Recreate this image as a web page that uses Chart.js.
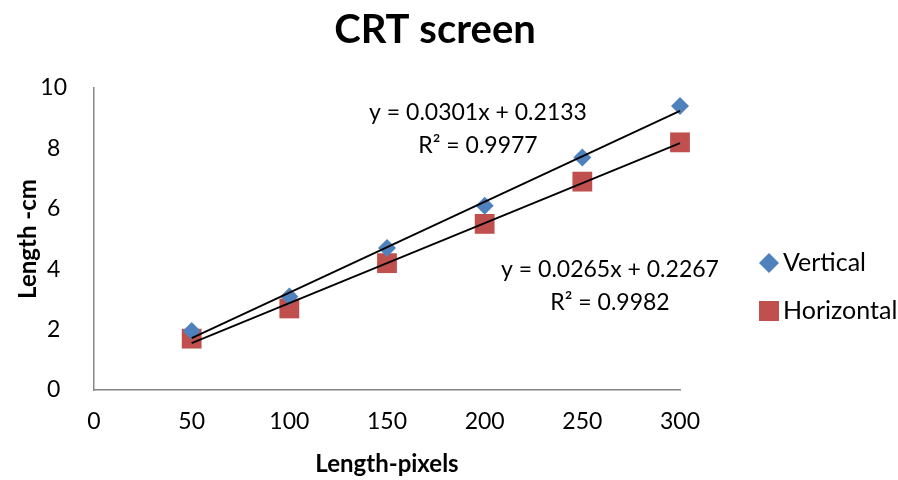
<!DOCTYPE html>
<html>
<head>
<meta charset="utf-8">
<script src="https://cdn.jsdelivr.net/npm/chart.js@4/dist/chart.umd.min.js"></script>
<style>
  html, body { margin: 0; padding: 0; background: #fff; }
  #wrap { width: 898px; height: 480px; }
</style>
</head>
<body>
<div id="wrap"><canvas id="c"></canvas></div>
<script>
const pixels = [50, 100, 150, 200, 250, 300];
const vertical = [1.95, 3.1, 4.7, 6.1, 7.7, 9.4];
const horizontal = [1.7, 2.7, 4.2, 5.5, 6.9, 8.2];
const xTicks = [0, 50, 100, 150, 200, 250, 300];
const yTicks = [0, 2, 4, 6, 8, 10];

// trendline coefficients as printed on the chart
const vFit = { m: 0.0301, b: 0.2133, r2: 0.9977 };
const hFit = { m: 0.0265, b: 0.2267, r2: 0.9982 };

const FONT = 'Lato, "Open Sans", sans-serif';

function fitLine(fit) {
	const x0 = pixels[0], x1 = pixels[pixels.length - 1];
	return [{ x: x0, y: fit.m * x0 + fit.b }, { x: x1, y: fit.m * x1 + fit.b }];
}

function toPoints(ys) {
	return pixels.map((x, i) => ({ x, y: ys[i] }));
}

function eqText(fit) {
	return ['y = ' + fit.m.toFixed(4) + 'x + ' + fit.b.toFixed(4), 'R\u00b2 = ' + fit.r2.toFixed(4)];
}

function drawMarker(ctx, style, x, y, r) {
	ctx.beginPath();
	if (style === 'rectRot') {
		ctx.moveTo(x, y - r); ctx.lineTo(x + r, y); ctx.lineTo(x, y + r); ctx.lineTo(x - r, y);
	} else {
		ctx.rect(x - r, y - r, 2 * r, 2 * r);
	}
	ctx.closePath();
	ctx.fill();
}

// equations next to the trendlines, Excel style
const eqLabels = {
	id: 'eqLabels',
	afterDatasetsDraw(chart) {
		const ctx = chart.ctx;
		const spots = [
			{ lines: eqText(vFit), x: 478, y: 113 },
			{ lines: eqText(hFit), x: 610, y: 270 }
		];
		ctx.save();
		ctx.fillStyle = '#000';
		ctx.font = '23px ' + FONT;
		ctx.textAlign = 'center';
		ctx.textBaseline = 'middle';
		spots.forEach(s => {
			s.lines.forEach((t, i) => ctx.fillText(t, s.x, s.y + i * 33));
		});
		ctx.restore();
	}
};

// legend on the right, only the two data series
const sideLegend = {
	id: 'sideLegend',
	afterDraw(chart) {
		const ctx = chart.ctx;
		const items = chart.data.datasets.filter(d => !d.isFit);
		ctx.save();
		ctx.font = '25px ' + FONT;
		ctx.textBaseline = 'middle';
		ctx.textAlign = 'left';
		items.forEach((d, i) => {
			const y = 263 + i * 48;
			ctx.fillStyle = d.backgroundColor;
			drawMarker(ctx, d.pointStyle, 769, y, 10);
			ctx.fillStyle = '#000';
			ctx.fillText(d.label, 783, y);
		});
		ctx.restore();
	}
};

new Chart(document.getElementById('c'), {
	type: 'scatter',
	data: {
		datasets: [
			{ label: 'Vertical', data: toPoints(vertical), pointStyle: 'rectRot', pointRadius: 9, pointHoverRadius: 9,
			  backgroundColor: '#4F81BD', borderColor: '#4F81BD', borderWidth: 0, order: 2, clip: false },
			{ label: 'Horizontal', data: toPoints(horizontal), pointStyle: 'rect', pointRadius: 14, pointHoverRadius: 14,
			  backgroundColor: '#C0504D', borderColor: '#C0504D', borderWidth: 0, order: 2, clip: false },
			{ label: 'fitV', isFit: true, data: fitLine(vFit), showLine: true, pointRadius: 0, borderColor: '#000', borderWidth: 1.8, order: 1, clip: false },
			{ label: 'fitH', isFit: true, data: fitLine(hFit), showLine: true, pointRadius: 0, borderColor: '#000', borderWidth: 1.8, order: 1, clip: false }
		]
	},
	options: {
		responsive: true,
		maintainAspectRatio: false,
		animation: false,
		layout: { padding: { top: 0, right: 28, left: 0, bottom: 0 } },
		plugins: {
			title: {
				display: true, text: 'CRT screen', color: '#000',
				font: { family: FONT, size: 40, weight: 'bold' },
				padding: { top: 6, bottom: 34 }
			},
			legend: { display: false },
			tooltip: { enabled: false }
		},
		scales: {
			x: {
				type: 'linear', min: 0, max: 300,
				afterBuildTicks: ax => { ax.ticks = xTicks.map(v => ({ value: v })); },
				afterFit: ax => { ax.height = 90; },
				grid: { display: false, drawTicks: false },
				border: { color: '#868686', width: 1.5 },
				ticks: { color: '#000', padding: 18, font: { family: FONT, size: 23 } },
				title: { display: true, text: 'Length-pixels', color: '#000', padding: { top: 0, bottom: 1 },
					font: { family: FONT, size: 24, weight: 'bold' } }
			},
			y: {
				min: 0, max: 10,
				afterBuildTicks: ax => { ax.ticks = yTicks.map(v => ({ value: v })); },
				afterFit: ax => { ax.width = 94; },
				grid: { display: false, drawTicks: false },
				border: { color: '#868686', width: 1.5 },
				ticks: { color: '#000', padding: 27, crossAlign: 'center', font: { family: FONT, size: 23 } },
				title: { display: true, text: 'Length -cm', color: '#000', padding: { top: 14, bottom: 0 },
					font: { family: FONT, size: 24, weight: 'bold' } }
			},
			// empty right-hand box that keeps room for the legend
			side: {
				position: 'right', min: 0, max: 1,
				afterFit: ax => { ax.width = 190; },
				grid: { display: false, drawTicks: false },
				border: { display: false },
				ticks: { display: false }
			}
		}
	},
	plugins: [eqLabels, sideLegend]
});
</script>
</body>
</html>
